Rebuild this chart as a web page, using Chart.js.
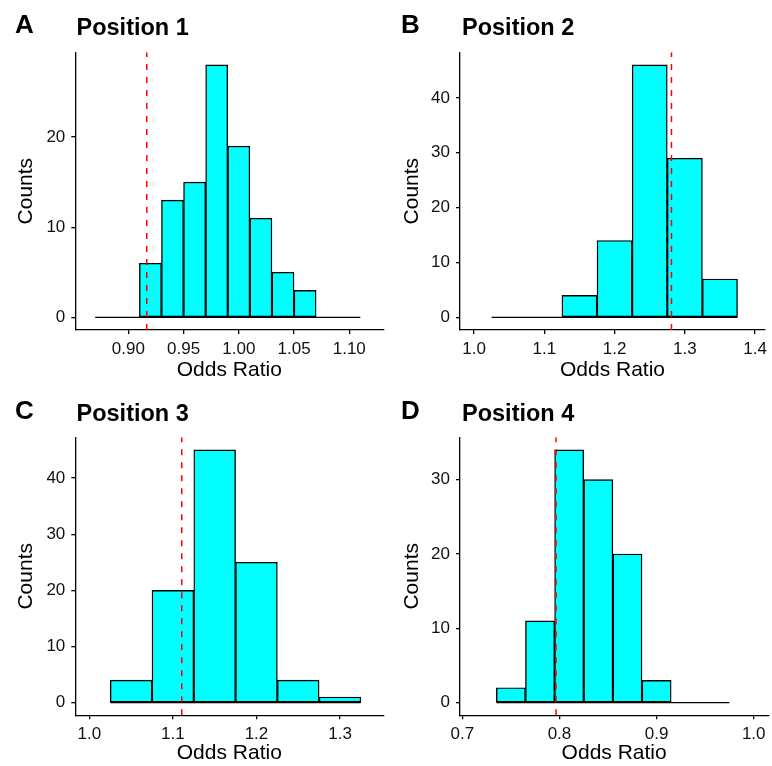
<!DOCTYPE html>
<html>
<head>
<meta charset="utf-8">
<script src="https://cdn.jsdelivr.net/npm/chart.js@4.4.1/dist/chart.umd.min.js"></script>
<style>
  html, body { margin: 0; padding: 0; background: #ffffff; }
  #wrap { position: relative; width: 772px; height: 766px; background: #ffffff; overflow: hidden; }
  .panel { position: absolute; width: 386px; height: 383px; }
  .panel canvas { position: absolute; left: 0; top: 0; }
  .letter { position: absolute; font-family: "Liberation Sans", Arial, Helvetica, sans-serif; font-weight: bold; font-size: 26px; line-height: 26px; color: #000; white-space: nowrap; }
  .ptitle { position: absolute; font-family: "Liberation Sans", Arial, Helvetica, sans-serif; font-weight: bold; font-size: 23.5px; line-height: 23.5px; color: #000; white-space: nowrap; }
</style>
</head>
<body>
<div id="wrap"></div>
<script>
// ---------------- data ----------------
const panelLetters = ['A', 'B', 'C', 'D'];
const panelTitles = ['Position 1', 'Position 2', 'Position 3', 'Position 4'];
const xAxisTitle = 'Odds Ratio';
const yAxisTitle = 'Counts';

// Position 1
const binCentersA = [0.88, 0.90, 0.92, 0.94, 0.96, 0.98, 1.00, 1.02, 1.04, 1.06, 1.08, 1.10];
const countsA     = [0, 0, 6, 13, 15, 28, 19, 11, 5, 3, 0, 0];
const binWidthA   = 0.02;
const refLineA    = 0.9167;
const xTicksA     = [0.90, 0.95, 1.00, 1.05, 1.10];
const xTickLabelsA = ['0.90', '0.95', '1.00', '1.05', '1.10'];
const yTicksA     = [0, 10, 20];

// Position 2
const binCentersB = [1.05, 1.10, 1.15, 1.20, 1.25, 1.30, 1.35];
const countsB     = [0, 0, 4, 14, 46, 29, 7];
const binWidthB   = 0.05;
const refLineB    = 1.281;
const xTicksB     = [1.0, 1.1, 1.2, 1.3, 1.4];
const xTickLabelsB = ['1.0', '1.1', '1.2', '1.3', '1.4'];
const yTicksB     = [0, 10, 20, 30, 40];

// Position 3
const binCentersC = [1.05, 1.10, 1.15, 1.20, 1.25, 1.30];
const countsC     = [4, 20, 45, 25, 4, 1];
const binWidthC   = 0.05;
const refLineC    = 1.1106;
const xTicksC     = [1.0, 1.1, 1.2, 1.3];
const xTickLabelsC = ['1.0', '1.1', '1.2', '1.3'];
const yTicksC     = [0, 10, 20, 30, 40];

// Position 4
const binCentersD = [0.75, 0.78, 0.81, 0.84, 0.87, 0.90, 0.93, 0.96];
const countsD     = [2, 11, 34, 30, 20, 3, 0, 0];
const binWidthD   = 0.03;
const refLineD    = 0.7965;
const xTicksD     = [0.7, 0.8, 0.9, 1.0];
const xTickLabelsD = ['0.7', '0.8', '0.9', '1.0'];
const yTicksD     = [0, 10, 20, 30];

// ---------------- layout / style ----------------
const FONT = '"Liberation Sans", Arial, Helvetica, sans-serif';
const panels = [
  { centers: binCentersA, counts: countsA, width: binWidthA, ref: refLineA, xTicks: xTicksA, xLabels: xTickLabelsA, yTicks: yTicksA,
    xMin: 0.852, xMax: 1.1308, yMin: -1.4, yMax: 29.4, left: 0, top: 0, yW: 75.3, xH: 53, padTop: 52.3, padRight: 2.7 },
  { centers: binCentersB, counts: countsB, width: binWidthB, ref: refLineB, xTicks: xTicksB, xLabels: xTickLabelsB, yTicks: yTicksB,
    xMin: 0.9799, xMax: 1.4141, yMin: -2.3, yMax: 48.3, left: 386, top: 0, yW: 74, xH: 53, padTop: 52.3, padRight: 3.7 },
  { centers: binCentersC, counts: countsC, width: binWidthC, ref: refLineC, xTicks: xTicksC, xLabels: xTickLabelsC, yTicks: yTicksC,
    xMin: 0.9832, xMax: 1.3518, yMin: -2.25, yMax: 47.25, left: 0, top: 383, yW: 75.3, xH: 50.7, padTop: 54.3, padRight: 2.7 },
  { centers: binCentersD, counts: countsD, width: binWidthD, ref: refLineD, xTicks: xTicksD, xLabels: xTickLabelsD, yTicks: yTicksD,
    xMin: 0.6976, xMax: 1.0150, yMin: -1.7, yMax: 35.7, left: 386, top: 383, yW: 74, xH: 50.7, padTop: 54.3, padRight: 3.7 }
];
const letterPos = [ {x: 15, y: 11.3}, {x: 401, y: 11.3}, {x: 15, y: 396.5}, {x: 401, y: 396.5} ];
const titlePos  = [ {x: 76.5, y: 16.3}, {x: 462, y: 16.3}, {x: 76.5, y: 401.5}, {x: 462, y: 401.5} ];

const wrap = document.getElementById('wrap');

panels.forEach((p, i) => {
  const div = document.createElement('div');
  div.className = 'panel';
  div.style.left = p.left + 'px';
  div.style.top = p.top + 'px';
  const cv = document.createElement('canvas');
  cv.width = 386; cv.height = 383;
  cv.style.width = '386px'; cv.style.height = '383px';
  div.appendChild(cv);
  wrap.appendChild(div);

  const lt = document.createElement('div');
  lt.className = 'letter';
  lt.textContent = panelLetters[i];
  lt.style.left = letterPos[i].x + 'px';
  lt.style.top = letterPos[i].y + 'px';
  wrap.appendChild(lt);

  const tt = document.createElement('div');
  tt.className = 'ptitle';
  tt.textContent = panelTitles[i];
  tt.style.left = titlePos[i].x + 'px';
  tt.style.top = titlePos[i].y + 'px';
  wrap.appendChild(tt);

  const barData = p.centers.map((c, k) => ({ x: c, y: p.counts[k] }));
  const firstEdge = p.centers[0] - p.width / 2;
  const lastEdge = p.centers[p.centers.length - 1] + p.width / 2;

  new Chart(cv.getContext('2d'), {
    type: 'bar',
    data: {
      datasets: [
        {
          type: 'line',
          data: [{ x: p.ref, y: p.yMin }, { x: p.ref, y: p.yMax }],
          borderColor: '#ff0000',
          borderWidth: 1.5,
          borderDash: [6, 7],
          pointRadius: 0,
          fill: false,
          order: 0
        },
        {
          type: 'line',
          data: [{ x: firstEdge, y: 0 }, { x: lastEdge, y: 0 }],
          borderColor: '#000000',
          borderWidth: 1.4,
          pointRadius: 0,
          fill: false,
          order: 1
        },
        {
          type: 'bar',
          data: barData,
          backgroundColor: '#00ffff',
          borderColor: '#000000',
          borderWidth: 1.4,
          borderSkipped: false,
          barPercentage: 1.0,
          categoryPercentage: 1.0,
          order: 2
        }
      ]
    },
    options: {
      responsive: false,
      animation: false,
      devicePixelRatio: 1,
      layout: { padding: { top: p.padTop, right: p.padRight, bottom: 0, left: 0 } },
      plugins: { legend: { display: false }, tooltip: { enabled: false }, title: { display: false } },
      scales: {
        x: {
          type: 'linear',
          min: p.xMin,
          max: p.xMax,
          offset: false,
          afterBuildTicks: (s) => { s.ticks = p.xTicks.map(v => ({ value: v })); },
          afterFit: (s) => { s.height = p.xH; },
          ticks: {
            autoSkip: false,
            maxRotation: 0,
            padding: 5,
            color: '#111111',
            font: { family: FONT, size: 17 },
            callback: (v, idx) => p.xLabels[idx]
          },
          grid: { display: true, offset: false, drawOnChartArea: false, drawTicks: true, tickLength: 4, color: '#000000', lineWidth: 1.3 },
          border: { display: true, color: '#000000', width: 1.3 },
          title: { display: true, text: xAxisTitle, color: '#000000', font: { family: FONT, size: 21 }, padding: { top: 0, bottom: 0 } }
        },
        y: {
          type: 'linear',
          min: p.yMin,
          max: p.yMax,
          afterBuildTicks: (s) => { s.ticks = p.yTicks.map(v => ({ value: v })); },
          afterFit: (s) => { s.width = p.yW; },
          ticks: {
            autoSkip: false,
            padding: 6,
            color: '#111111',
            font: { family: FONT, size: 17 },
            callback: (v) => String(v)
          },
          grid: { display: true, offset: false, drawOnChartArea: false, drawTicks: true, tickLength: 4, color: '#000000', lineWidth: 1.3 },
          border: { display: true, color: '#000000', width: 1.3 },
          title: { display: true, text: yAxisTitle, color: '#000000', font: { family: FONT, size: 21 }, padding: { top: 14, bottom: 0 } }
        }
      }
    }
  });
});
</script>
</body>
</html>
